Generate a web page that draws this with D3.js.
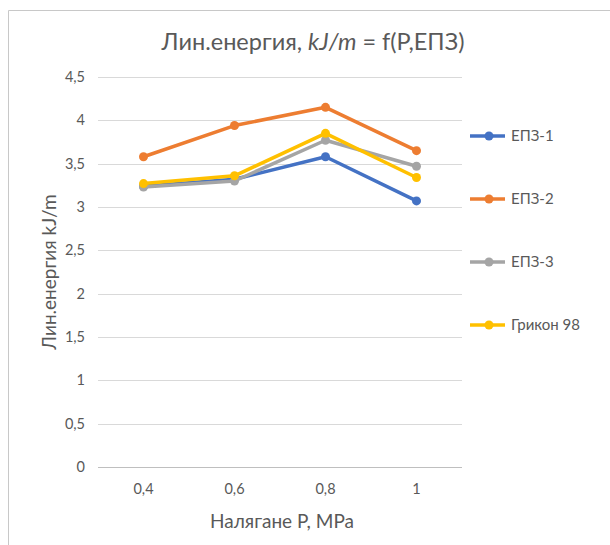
<!DOCTYPE html>
<html>
<head>
<meta charset="utf-8">
<script src="https://cdn.jsdelivr.net/npm/d3@7"></script>
<style>
  html, body { margin: 0; padding: 0; background: #fff; }
  svg { display: block; font-family: Lato, "Open Sans", sans-serif; }
</style>
</head>
<body>
<svg id="chart" width="610" height="545"></svg>
<script>
// Pressure categories (MPa) and their axis labels
const categories = ["0,4", "0,6", "0,8", "1"];

// Linear energy, kJ/m, per material
const seriesNames = ["ЕПЗ-1", "ЕПЗ-2", "ЕПЗ-3", "Грикон 98"];
const epz1 = [3.24, 3.32, 3.58, 3.07];
const epz2 = [3.58, 3.94, 4.15, 3.65];
const epz3 = [3.23, 3.30, 3.77, 3.47];
const grikon = [3.27, 3.36, 3.85, 3.34];
const seriesColors = ["#4472C4", "#ED7D31", "#A5A5A5", "#FFC000"];

const yTicks = [0, 0.5, 1, 1.5, 2, 2.5, 3, 3.5, 4, 4.5];

const series = seriesNames.map((name, i) => ({
  name,
  color: seriesColors[i],
  values: [epz1, epz2, epz3, grikon][i]
}));

const svg = d3.select("#chart");
const plot = { left: 98, right: 462, top: 77, bottom: 467 };

// Chart area frame
svg.append("path")
  .attr("d", "M8.5,545 V10.5 H610")
  .attr("fill", "none")
  .attr("stroke", "#c8c8c8")
  .attr("stroke-width", 1);

const x = d3.scaleBand().domain(categories).range([plot.left, plot.right]);
const y = d3.scaleLinear().domain([0, 4.5]).range([plot.bottom, plot.top]);

const fmt = v => String(v).replace(".", ",");

// Horizontal gridlines
svg.append("g")
  .selectAll("line")
  .data(yTicks.filter(t => t > 0))
  .join("line")
  .attr("x1", plot.left).attr("x2", plot.right)
  .attr("y1", d => Math.round(y(d)) + 0.5).attr("y2", d => Math.round(y(d)) + 0.5)
  .attr("stroke", "#d9d9d9").attr("stroke-width", 1);

// Y axis (labels only)
const yAxis = svg.append("g")
  .attr("transform", `translate(${plot.left},0)`)
  .call(d3.axisLeft(y).tickValues(yTicks).tickFormat(fmt).tickSize(0).tickPadding(13));
yAxis.select(".domain").remove();
yAxis.selectAll("text")
  .attr("fill", "#595959")
  .style("font-size", "14.5px")
  .style("font-family", "Lato, 'Open Sans', sans-serif");

// X axis
const xAxis = svg.append("g")
  .attr("transform", `translate(0,${Math.round(plot.bottom) + 0.5})`)
  .call(d3.axisBottom(x).tickSize(0).tickPadding(16));
xAxis.select(".domain").attr("stroke", "#bfbfbf").attr("d", `M${plot.left},0H${plot.right}`);
xAxis.selectAll("text")
  .attr("fill", "#595959")
  .style("font-size", "14.5px")
  .style("font-family", "Lato, 'Open Sans', sans-serif");

// Series lines and markers
const line = d3.line()
  .x((d, i) => x(categories[i]) + x.bandwidth() / 2)
  .y(d => y(d));

const sg = svg.append("g").selectAll("g").data(series).join("g");
sg.append("path")
  .attr("d", d => line(d.values))
  .attr("fill", "none")
  .attr("stroke", d => d.color)
  .attr("stroke-width", 3.5)
  .attr("stroke-linejoin", "round")
  .attr("stroke-linecap", "round");
sg.selectAll("circle")
  .data(d => d.values.map((v, i) => ({ v, i, color: d.color })))
  .join("circle")
  .attr("cx", d => x(categories[d.i]) + x.bandwidth() / 2)
  .attr("cy", d => y(d.v))
  .attr("r", 4.5)
  .attr("fill", d => d.color);

// Title
const title = svg.append("text")
  .attr("x", 313).attr("y", 50)
  .attr("text-anchor", "middle")
  .attr("fill", "#595959")
  .style("font-size", "23.5px");
title.append("tspan").text("Лин.енергия, ");
title.append("tspan").style("font-style", "italic").text("kJ/m");
title.append("tspan").text(" = f(P,ЕПЗ)");

// Axis titles
svg.append("text")
  .attr("transform", "translate(56,272) rotate(-90)")
  .attr("text-anchor", "middle")
  .attr("fill", "#595959")
  .style("font-size", "19px")
  .text("Лин.енергия kJ/m");

svg.append("text")
  .attr("x", 282).attr("y", 528)
  .attr("text-anchor", "middle")
  .attr("fill", "#595959")
  .style("font-size", "19px")
  .text("Налягане P, MPa");

// Legend
const legendRows = [136, 199, 262, 325];
const lg = svg.append("g").selectAll("g").data(series).join("g")
  .attr("transform", (d, i) => `translate(470,${legendRows[i]})`);
lg.append("line")
  .attr("x1", 0).attr("x2", 35)
  .attr("stroke", d => d.color).attr("stroke-width", 3.5);
lg.append("circle").attr("cx", 19).attr("r", 4.5).attr("fill", d => d.color);
lg.append("text")
  .attr("x", 41).attr("dy", "0.35em")
  .attr("fill", "#595959")
  .style("font-size", "15px")
  .text(d => d.name);
</script>
</body>
</html>
